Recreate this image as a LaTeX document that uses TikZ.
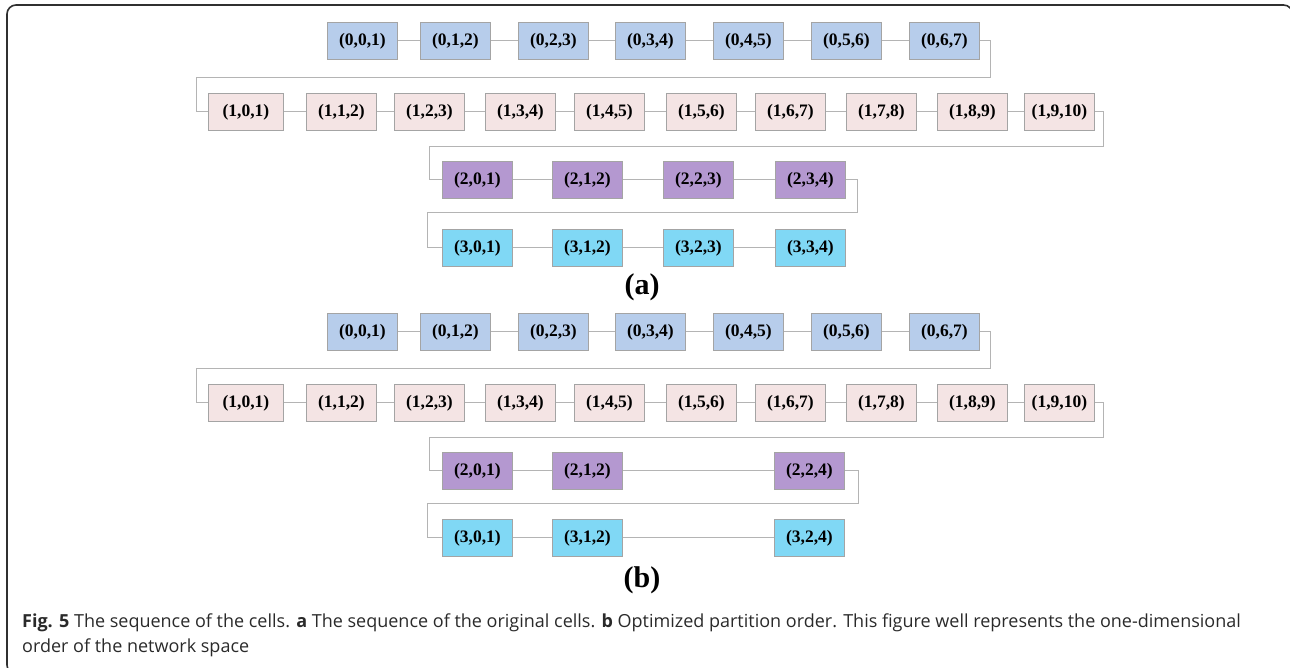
\documentclass[tikz,border=0pt]{standalone}
\usepackage{fontspec}
\setmainfont{Liberation Serif}
\newfontfamily\capfont{Open Sans}
\definecolor{rowzero}{HTML}{B7CDEB}
\definecolor{rowone}{HTML}{F4E4E4}
\definecolor{rowtwo}{HTML}{B498D0}
\definecolor{rowthree}{HTML}{80D8F5}
\definecolor{boxline}{HTML}{A4A4A4}
\definecolor{linkgray}{HTML}{B4B4B4}
\definecolor{framegray}{HTML}{303030}
\definecolor{captext}{HTML}{2A2A2A}
\begin{document}
\begin{tikzpicture}[x=1pt,y=-1pt,
  cell/.style={draw=boxline, line width=0.8pt, anchor=north west,
    minimum width=70pt, minimum height=37pt, inner sep=0pt,
    font=\bfseries\fontsize{17.5}{17.5}\selectfont},
  link/.style={draw=linkgray, line width=1pt},
  panel/.style={font=\bfseries\fontsize{30}{30}\selectfont},
  capline/.style={anchor=base west, inner sep=0pt, text=captext,
    font=\capfont\fontsize{18}{20}\selectfont}]
\useasboundingbox (0,0) rectangle (1290,667);

% outer frame, cut at the page border
\begin{scope}
  \clip (0,0) rectangle (1290,667);
  \draw[framegray, line width=1.6pt, rounded corners=9pt] (7,5) rectangle (1292.5,674);
\end{scope}

% ---------- rows 0 and 1, identical in both panels ----------
\foreach \dy/\p in {0/a,291/b}{
  % row 0
  \foreach \x [count=\i from 0] in {327,420,518,615,713,811,909}
    \node[cell, fill=rowzero] (\p0\i) at (\x,22+\dy) {(0,\i,\the\numexpr\i+1\relax)};
  \foreach \i [evaluate=\i as \j using int(\i+1)] in {0,...,5}
    \draw[link] (\p0\i.east) -- (\p0\j.west);
  % row 1
  \node[cell, fill=rowone, minimum width=75pt] (\p10) at (208,93+\dy) {(1,0,1)};
  \foreach \x [count=\i] in {306,394,485,574,666,755,846,937,1024}
    \node[cell, fill=rowone] (\p1\i) at (\x,93+\dy) {(1,\i,\the\numexpr\i+1\relax)};
  \foreach \i [evaluate=\i as \j using int(\i+1)] in {0,...,8}
    \draw[link] (\p1\i.east) -- (\p1\j.west);
  % turn from row 0 into row 1
  \coordinate (\p01r) at (990,77+\dy);
  \coordinate (\p01l) at (196,77+\dy);
  \draw[link] (\p06.east) -| (\p01r) -- (\p01l) |- (\p10.west);
}

% ---------- (a): rows 2 and 3 ----------
\foreach \x [count=\i from 0] in {442,552,663,775}{
  \node[cell, fill=rowtwo]   (a2\i) at (\x,161) {(2,\i,\the\numexpr\i+1\relax)};
  \node[cell, fill=rowthree] (a3\i) at (\x,229) {(3,\i,\the\numexpr\i+1\relax)};
}
\foreach \i [evaluate=\i as \j using int(\i+1)] in {0,1,2}{
  \draw[link] (a2\i.east) -- (a2\j.west);
  \draw[link] (a3\i.east) -- (a3\j.west);
}
\coordinate (a12r) at (1103,146);
\coordinate (a12l) at (429,146);
\draw[link] (a19.east) -| (a12r) -- (a12l) |- (a20.west);
\coordinate (a23r) at (857,212);
\coordinate (a23l) at (427,212);
\draw[link] (a23.east) -| (a23r) -- (a23l) |- (a30.west);
\node[panel] (labela) at (642,287) {(a)};

% ---------- (b): rows 2 and 3 after partitioning ----------
\foreach \x/\t [count=\i from 0] in {442/{0,1},552/{1,2},774/{2,4}}{
  \node[cell, fill=rowtwo]   (b2\i) at (\x,452) {(2,\t)};
  \node[cell, fill=rowthree] (b3\i) at (\x,519) {(3,\t)};
}
\foreach \i [evaluate=\i as \j using int(\i+1)] in {0,1}{
  \draw[link] (b2\i.east) -- (b2\j.west);
  \draw[link] (b3\i.east) -- (b3\j.west);
}
\coordinate (b12r) at (1103,437);
\coordinate (b12l) at (429,437);
\draw[link] (b19.east) -| (b12r) -- (b12l) |- (b20.west);
\coordinate (b23r) at (858,503);
\coordinate (b23l) at (427,503);
\draw[link] (b22.east) -| (b23r) -- (b23l) |- (b30.west);
\node[panel] (labelb) at (642,580) {(b)};

% ---------- caption ----------
\node[capline] (cap1) at (22,627) {\textbf{Fig. 5} The sequence of the cells. \textbf{a} The sequence of the original cells. \textbf{b} Optimized partition order. This figure well represents the one-dimensional};
\node[capline] (cap2) at (22,652) {order of the network space};
\end{tikzpicture}
\end{document}
